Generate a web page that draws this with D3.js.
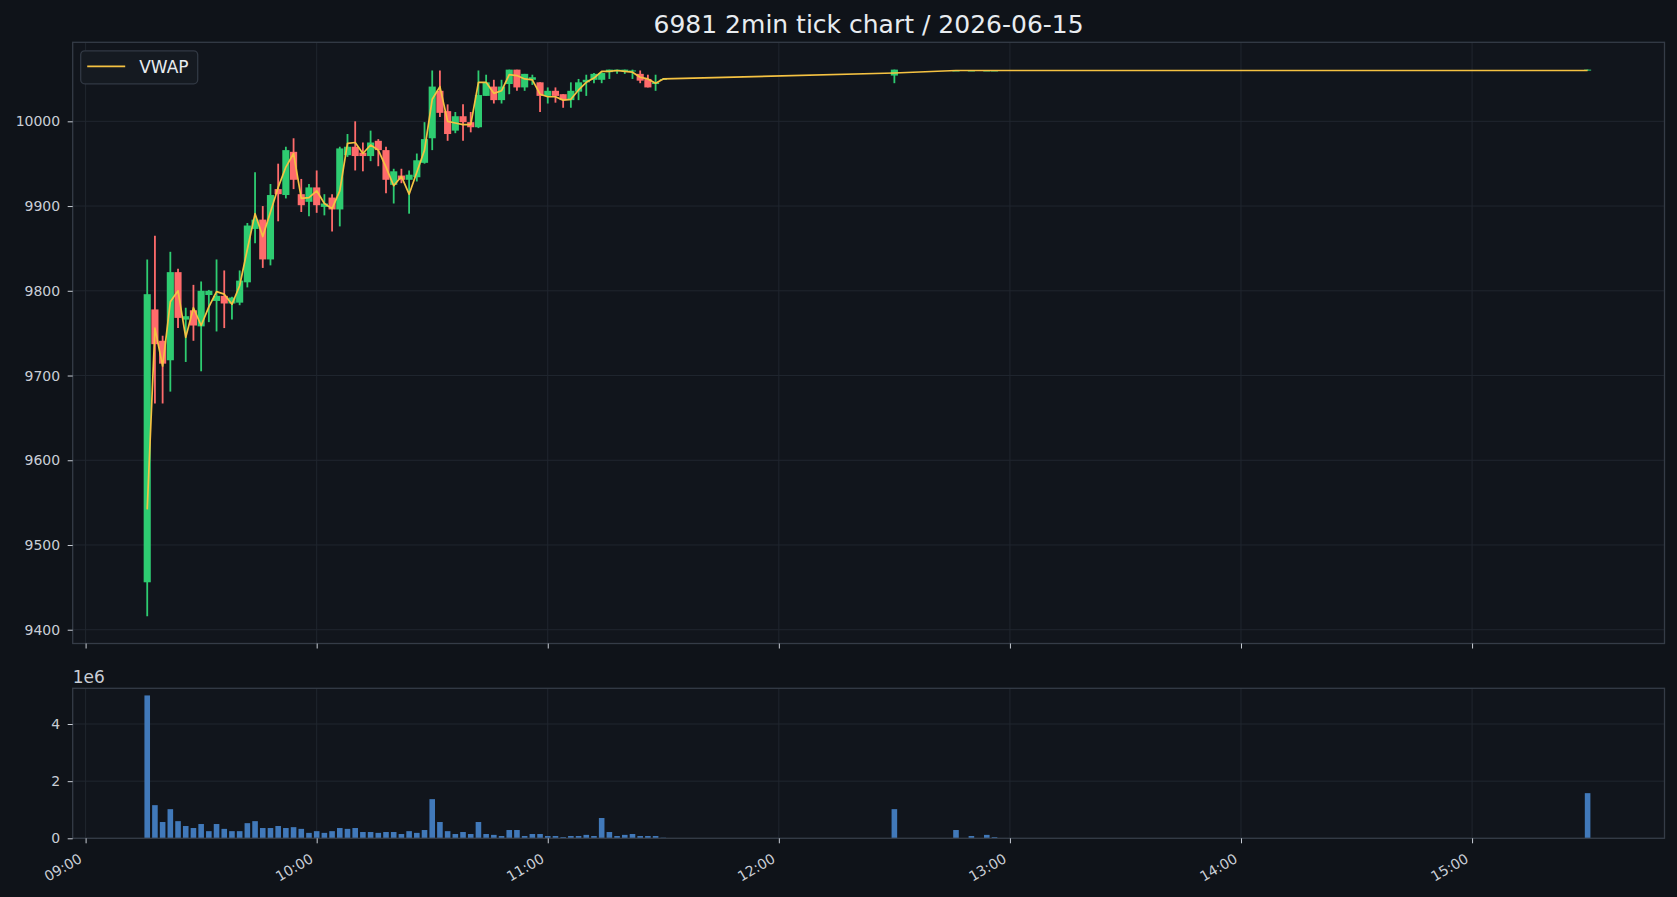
<!DOCTYPE html>
<html>
<head>
<meta charset="utf-8">
<script src="https://cdn.jsdelivr.net/npm/d3@7"></script>
<style>
  html, body { margin: 0; padding: 0; background: #0f1319; }
  svg { display: block; }
</style>
</head>
<body>
<div id="chart"></div>
<script>
// 2-minute bars
const times = [
  '09:16','09:18','09:20','09:22','09:24','09:26','09:28','09:30','09:32','09:34',
  '09:36','09:38','09:40','09:42','09:44','09:46','09:48','09:50','09:52','09:54',
  '09:56','09:58','10:00','10:02','10:04','10:06','10:08','10:10','10:12','10:14',
  '10:16','10:18','10:20','10:22','10:24','10:26','10:28','10:30','10:32','10:34',
  '10:36','10:38','10:40','10:42','10:44','10:46','10:48','10:50','10:52','10:54',
  '10:56','10:58','11:00','11:02','11:04','11:06','11:08','11:10','11:12','11:14',
  '11:16','11:18','11:20','11:22','11:24','11:26','11:28','11:30',
  '12:30','12:46','12:50','12:54','12:56','15:30'
];

const opens = [
  9456, 9778, 9741, 9718, 9822, 9766, 9777, 9758, 9795, 9788,
  9794, 9785, 9786, 9810, 9873, 9884, 9837, 9920, 9913, 9964,
  9914, 9905, 9922, 9899, 9910, 9896, 9960, 9970, 9963, 9959,
  9977, 9966, 9925, 9936, 9931, 9934, 9951, 9980, 10036, 10012,
  9989, 10006, 9999, 9993, 10030, 10041, 10025, 10044, 10061, 10040,
  10049, 10046, 10030, 10036, 10032, 10025, 10035, 10046, 10049, 10049,
  10058, 10059, 10059, 10059, 10056, 10050, 10044, 10049,
  10054, 10060, 10060, 10060, 10060, 10060
];

const highs = [
  9837, 9865, 9747, 9846, 9826, 9780, 9807, 9811, 9801, 9837,
  9824, 9793, 9824, 9880, 9940, 9900, 9926, 9950, 9970, 9980,
  9932, 9926, 9942, 9914, 9914, 9970, 9985, 10000, 9975, 9989,
  9979, 9970, 9944, 9944, 9942, 9962, 9999, 10060, 10060, 10020,
  10011, 10020, 10011, 10060, 10055, 10049, 10049, 10061, 10061, 10056,
  10055, 10046, 10040, 10040, 10032, 10046, 10050, 10055, 10057, 10058,
  10061, 10061, 10061, 10061, 10060, 10055, 10055, 10051,
  10061, 10060, 10060, 10060, 10060, 10061
];

const lows = [
  9416, 9667, 9667, 9681, 9756, 9716, 9741, 9705, 9763, 9752,
  9756, 9766, 9783, 9804, 9856, 9827, 9830, 9882, 9909, 9920,
  9893, 9888, 9892, 9889, 9870, 9876, 9958, 9942, 9941, 9953,
  9947, 9915, 9903, 9927, 9891, 9929, 9950, 9966, 10005, 9977,
  9986, 9977, 9987, 9992, 10030, 10021, 10021, 10032, 10036, 10036,
  10043, 10011, 10021, 10022, 10016, 10016, 10025, 10030, 10045, 10045,
  10050, 10056, 10056, 10050, 10045, 10040, 10036, 10049,
  10045, 10060, 10060, 10060, 10060, 10060
];

const closes = [
  9796, 9737, 9714, 9822, 9768, 9770, 9759, 9800, 9800, 9794,
  9785, 9792, 9812, 9877, 9884, 9837, 9913, 9914, 9966, 9931,
  9901, 9922, 9901, 9903, 9896, 9968, 9970, 9959, 9959, 9975,
  9966, 9931, 9941, 9931, 9937, 9954, 9979, 10041, 10010, 9985,
  10006, 9999, 9993, 10031, 10046, 10025, 10041, 10061, 10040, 10056,
  10052, 10030, 10036, 10030, 10025, 10036, 10046, 10049, 10056, 10057,
  10061, 10061, 10061, 10060, 10048, 10040, 10046, 10050,
  10061, 10060, 10060, 10060, 10060, 10061
];

const vwaps = [
  9542, 9756, 9711, 9787, 9800, 9745, 9780, 9759, 9781, 9799,
  9796, 9784, 9806, 9849, 9891, 9864, 9893, 9922, 9946, 9962,
  9909, 9910, 9918, 9903, 9897, 9918, 9974, 9975, 9962, 9972,
  9966, 9946, 9924, 9935, 9914, 9940, 9966, 10026, 10041, 10000,
  9998, 9996, 9996, 10046, 10046, 10033, 10036, 10055, 10054, 10050,
  10049, 10032, 10029, 10029, 10025, 10026, 10037, 10046, 10051, 10059,
  10059, 10060, 10059, 10058, 10052, 10050, 10045, 10050,
  10057, 10060, 10060, 10060, 10060, 10060
];

const volumes = [
  5000000, 1160000, 570000, 1020000, 600000, 430000, 360000, 500000, 250000, 500000,
  330000, 250000, 250000, 530000, 600000, 360000, 360000, 430000, 360000, 390000,
  330000, 190000, 250000, 190000, 250000, 360000, 330000, 360000, 220000, 220000,
  190000, 220000, 220000, 150000, 250000, 190000, 290000, 1370000, 570000, 250000,
  150000, 220000, 150000, 570000, 150000, 120000, 80000, 290000, 290000, 80000,
  150000, 150000, 80000, 80000, 40000, 80000, 80000, 120000, 80000, 710000,
  220000, 80000, 120000, 150000, 80000, 80000, 80000, 20000,
  1020000, 290000, 80000, 120000, 40000, 1580000
];

const priceTicks = [9400, 9500, 9600, 9700, 9800, 9900, 10000];
const volumeTicks = [0, 2000000, 4000000];
const chartTitle = '6981 2min tick chart / 2026-06-15';
const legendLabel = 'VWAP';

const d3Config = {
  viewportWidth: 1677,
  viewportHeight: 897,
  left: 72.7,
  right: 1664.5,
  price: { top: 42.3, bottom: 643.5 },
  volume: { top: 688.3, bottom: 838.3 },
  xPadMinutes: [19.35, 19.97],
  bodyMinutes: 1.85,
  volMinutes: 1.45,
  font: '"DejaVu Sans", Verdana, sans-serif',
  colors: {
    figure: '#0f1319',
    axes: '#11151c',
    grid: '#20262f',
    spine: '#353c47',
    text: '#c9ced6',
    title: '#e8ecf0',
    up: '#2ecc71',
    down: '#ff6b6b',
    vwap: '#f5c242',
    volume: '#4179ba'
  }
};

const parseTime = d3.timeParse('%H:%M');
const bars = times.map((t, i) => ({
  date: parseTime(t),
  open: opens[i], high: highs[i], low: lows[i], close: closes[i],
  vwap: vwaps[i], volume: volumes[i]
}));

function xMapperGenerator(cfg, data) {
  const [t0, t1] = d3.extent(data, d => d.date);
  return d3.scaleTime()
    .domain([d3.timeSecond.offset(t0, -cfg.xPadMinutes[0] * 60), d3.timeSecond.offset(t1, cfg.xPadMinutes[1] * 60)])
    .range([cfg.left, cfg.right]);
}

function yPriceGenerator(cfg, data) {
  const lo = d3.min(data, d => d.low);
  const hi = d3.max(data, d => d.high);
  const pad = (hi - lo) * 0.05;
  return d3.scaleLinear()
    .domain([lo - pad, hi + pad])
    .range([cfg.price.bottom, cfg.price.top]);
}

function yVolumeGenerator(cfg, data) {
  return d3.scaleLinear()
    .domain([0, d3.max(data, d => d.volume) * 1.05])
    .range([cfg.volume.bottom, cfg.volume.top]);
}

function styleAxis(g, cfg) {
  g.select('.domain').remove();
  g.selectAll('.tick line').attr('stroke', cfg.colors.text).attr('stroke-width', 1);
  g.selectAll('.tick text')
    .attr('fill', cfg.colors.text)
    .style('font-family', cfg.font)
    .style('font-size', '14px');
}

function drawPanel(svg, cfg, box, xMapper, yMapper, yTicks) {
  svg.append('rect')
    .attr('x', cfg.left).attr('y', box.top)
    .attr('width', cfg.right - cfg.left).attr('height', box.bottom - box.top)
    .attr('fill', cfg.colors.axes);

  const grid = svg.append('g');
  grid.selectAll('line.vx')
    .data(xMapper.ticks(d3.timeHour.every(1)))
    .enter().append('line')
    .attr('x1', d => xMapper(d)).attr('x2', d => xMapper(d))
    .attr('y1', box.top).attr('y2', box.bottom)
    .attr('stroke', cfg.colors.grid).attr('stroke-width', 1);
  grid.selectAll('line.hy')
    .data(yTicks)
    .enter().append('line')
    .attr('x1', cfg.left).attr('x2', cfg.right)
    .attr('y1', d => yMapper(d)).attr('y2', d => yMapper(d))
    .attr('stroke', cfg.colors.grid).attr('stroke-width', 1);
}

function drawFrame(svg, cfg, box) {
  svg.append('rect')
    .attr('x', cfg.left).attr('y', box.top)
    .attr('width', cfg.right - cfg.left).attr('height', box.bottom - box.top)
    .attr('fill', 'none')
    .attr('stroke', cfg.colors.spine).attr('stroke-width', 1.3);
}

function render() {
  const cfg = d3Config;
  const svg = d3.select('#chart')
    .append('svg')
    .attr('width', cfg.viewportWidth)
    .attr('height', cfg.viewportHeight)
    .style('background', cfg.colors.figure);

  const xMapper = xMapperGenerator(cfg, bars);
  const yPrice = yPriceGenerator(cfg, bars);
  const yVol = yVolumeGenerator(cfg, bars);
  const minutePx = xMapper(d3.timeMinute.offset(bars[0].date, 1)) - xMapper(bars[0].date);

  drawPanel(svg, cfg, cfg.price, xMapper, yPrice, priceTicks);
  drawPanel(svg, cfg, cfg.volume, xMapper, yVol, volumeTicks);

  // candles
  const candles = svg.append('g');
  const bodyW = cfg.bodyMinutes * minutePx;
  candles.selectAll('line.wick')
    .data(bars)
    .enter().append('line')
    .attr('x1', d => xMapper(d.date)).attr('x2', d => xMapper(d.date))
    .attr('y1', d => yPrice(d.high)).attr('y2', d => yPrice(d.low))
    .attr('stroke', d => d.close >= d.open ? cfg.colors.up : cfg.colors.down)
    .attr('stroke-width', 1.8);
  candles.selectAll('rect.body')
    .data(bars)
    .enter().append('rect')
    .attr('x', d => xMapper(d.date) - bodyW / 2)
    .attr('width', bodyW)
    .attr('y', d => yPrice(Math.max(d.open, d.close)))
    .attr('height', d => Math.max(1, Math.abs(yPrice(d.open) - yPrice(d.close))))
    .attr('fill', d => d.close >= d.open ? cfg.colors.up : cfg.colors.down);

  // vwap line
  svg.append('path')
    .datum(bars)
    .attr('fill', 'none')
    .attr('stroke', cfg.colors.vwap)
    .attr('stroke-width', 1.7)
    .attr('stroke-linejoin', 'round')
    .attr('d', d3.line().x(d => xMapper(d.date)).y(d => yPrice(d.vwap)));

  // volume bars
  const volW = cfg.volMinutes * minutePx;
  svg.append('g').selectAll('rect')
    .data(bars)
    .enter().append('rect')
    .attr('x', d => xMapper(d.date) - volW / 2)
    .attr('width', volW)
    .attr('y', d => yVol(d.volume))
    .attr('height', d => yVol(0) - yVol(d.volume))
    .attr('fill', cfg.colors.volume);

  drawFrame(svg, cfg, cfg.price);
  drawFrame(svg, cfg, cfg.volume);

  // axes
  const hourTicks = xMapper.ticks(d3.timeHour.every(1));
  svg.append('g')
    .attr('transform', `translate(0,${cfg.price.bottom})`)
    .call(d3.axisBottom(xMapper).tickValues(hourTicks).tickSize(5).tickFormat(''))
    .call(g => styleAxis(g, cfg));

  svg.append('g')
    .attr('transform', `translate(0,${cfg.volume.bottom})`)
    .call(d3.axisBottom(xMapper).tickValues(hourTicks).tickSize(5).tickFormat(d3.timeFormat('%H:%M')))
    .call(g => styleAxis(g, cfg))
    .call(g => g.selectAll('.tick text')
      .attr('x', 0).attr('y', 0).attr('dy', '0.35em')
      .attr('text-anchor', 'end')
      .attr('transform', 'translate(-5.5,19) rotate(-30)'));

  svg.append('g')
    .attr('transform', `translate(${cfg.left},0)`)
    .call(d3.axisLeft(yPrice).tickValues(priceTicks).tickSize(5).tickPadding(7.5).tickFormat(d3.format('d')))
    .call(g => styleAxis(g, cfg));

  svg.append('g')
    .attr('transform', `translate(${cfg.left},0)`)
    .call(d3.axisLeft(yVol).tickValues(volumeTicks).tickSize(5).tickPadding(7.5).tickFormat(d => d / 1e6))
    .call(g => styleAxis(g, cfg));

  // offset label of the volume axis
  svg.append('text')
    .attr('x', cfg.left)
    .attr('y', cfg.volume.top - 5)
    .attr('fill', cfg.colors.text)
    .style('font-family', cfg.font)
    .style('font-size', '17px')
    .text('1e6');

  // title
  svg.append('text')
    .attr('x', (cfg.left + cfg.right) / 2)
    .attr('y', 33.3)
    .attr('text-anchor', 'middle')
    .attr('fill', cfg.colors.title)
    .style('font-family', cfg.font)
    .style('font-size', '25px')
    .text(chartTitle);

  // legend
  const legend = svg.append('g').attr('transform', `translate(${cfg.left + 8},${cfg.price.top + 8.5})`);
  legend.append('rect')
    .attr('width', 117).attr('height', 33).attr('rx', 4)
    .attr('fill', '#151a21').attr('stroke', '#323944').attr('stroke-width', 1.3);
  legend.append('line')
    .attr('x1', 6.5).attr('x2', 44.5).attr('y1', 15.5).attr('y2', 15.5)
    .attr('stroke', cfg.colors.vwap).attr('stroke-width', 1.7);
  legend.append('text')
    .attr('x', 58.5).attr('y', 22)
    .attr('fill', cfg.colors.title)
    .style('font-family', cfg.font)
    .style('font-size', '17px')
    .text(legendLabel);
}

render();
</script>
</body>
</html>
